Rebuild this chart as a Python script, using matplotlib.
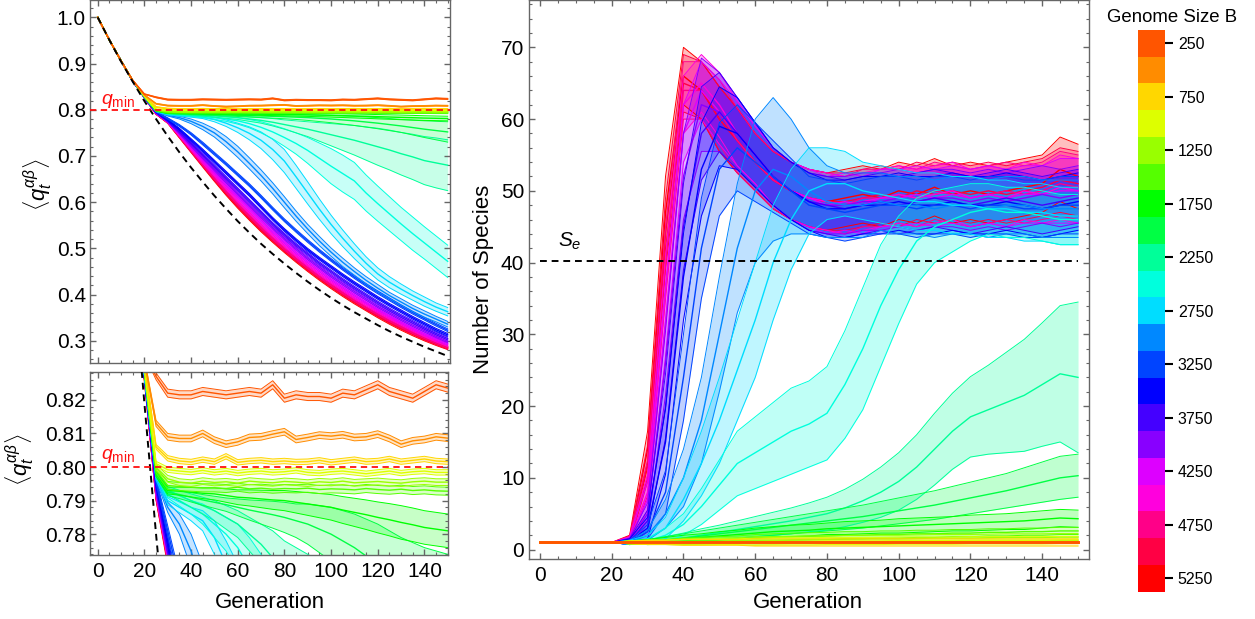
import numpy as np
import matplotlib
matplotlib.use('Agg')
import matplotlib.pyplot as plt
import matplotlib.cm as cm
from matplotlib.colors import ListedColormap, BoundaryNorm
from matplotlib.ticker import MultipleLocator, FormatStrFormatter

plt.rcParams['font.family'] = ['Liberation Sans', 'DejaVu Sans']
plt.rcParams['mathtext.fontset'] = 'custom'
plt.rcParams['mathtext.rm'] = 'Liberation Sans'
plt.rcParams['mathtext.it'] = 'Liberation Sans:italic'
plt.rcParams['mathtext.bf'] = 'Liberation Sans:bold'

# generations sampled every 5 steps
gens = list(range(0, 151, 5))

genome_sizes = [250, 500, 750, 1000, 1250, 1500, 1750, 2000, 2250, 2500, 2750,
                3000, 3250, 3500, 3750, 4000, 4250, 4500, 4750, 5000, 5250]
cbar_ticks = [250, 750, 1250, 1750, 2250, 2750, 3250, 3750, 4250, 4750, 5250]

q_min = 0.8
S_e = 40.2

# black dashed reference curve for <q>
q_ref = [1.0, 0.951, 0.9045, 0.861, 0.819, 0.780, 0.743, 0.708, 0.675, 0.644, 0.614,
         0.586, 0.559, 0.534, 0.510, 0.488, 0.467, 0.447, 0.428, 0.410, 0.393, 0.377,
         0.362, 0.348, 0.334, 0.321, 0.309, 0.298, 0.287, 0.277, 0.267]

# mean overlap <q> per genome size
q_0250 = [1.000, 0.951, 0.906, 0.864, 0.834, 0.827, 0.822, 0.8215, 0.8215, 0.8225, 0.822, 0.8215, 0.822, 0.8225, 0.822, 0.8245, 0.8205, 0.8215, 0.821, 0.821, 0.8205, 0.822, 0.8215, 0.823, 0.8245, 0.8225, 0.8215, 0.8205, 0.8225, 0.8245, 0.8235]
q_0500 = [1.000, 0.951, 0.906, 0.863, 0.832, 0.813, 0.809, 0.8085, 0.8085, 0.810, 0.808, 0.8068, 0.8075, 0.8088, 0.809, 0.8098, 0.8105, 0.8082, 0.8088, 0.8095, 0.8092, 0.8096, 0.8088, 0.809, 0.8098, 0.8085, 0.8068, 0.8078, 0.8082, 0.809, 0.8086]
q_0750 = [1.000, 0.951, 0.906, 0.863, 0.831, 0.806, 0.8026, 0.8018, 0.8015, 0.8022, 0.8016, 0.8032, 0.8014, 0.8018, 0.802, 0.8016, 0.8018, 0.8015, 0.8016, 0.802, 0.8014, 0.8018, 0.8022, 0.8016, 0.8018, 0.8024, 0.8016, 0.802, 0.8024, 0.8018, 0.8016]
q_1000 = [1.000, 0.951, 0.906, 0.863, 0.830, 0.801, 0.7992, 0.7988, 0.7985, 0.799, 0.7984, 0.7988, 0.7982, 0.7986, 0.7988, 0.7984, 0.7986, 0.799, 0.7984, 0.7982, 0.7986, 0.7988, 0.7984, 0.798, 0.7984, 0.7988, 0.7982, 0.7986, 0.7988, 0.7984, 0.7984]
q_1250 = [1.000, 0.951, 0.906, 0.863, 0.829, 0.800, 0.7965, 0.7955, 0.7952, 0.7958, 0.7954, 0.7956, 0.7952, 0.7958, 0.7955, 0.7953, 0.7957, 0.7955, 0.7952, 0.7956, 0.7954, 0.7958, 0.7953, 0.7955, 0.7957, 0.7954, 0.7952, 0.7956, 0.7958, 0.7955, 0.7955]
q_1500 = [1.000, 0.951, 0.906, 0.863, 0.829, 0.799, 0.7945, 0.7942, 0.794, 0.7938, 0.7938, 0.7936, 0.794, 0.7935, 0.7937, 0.7934, 0.7936, 0.7935, 0.7937, 0.7933, 0.7935, 0.7934, 0.7932, 0.7936, 0.7933, 0.7931, 0.7934, 0.793, 0.7932, 0.7929, 0.7928]
q_1750 = [1.000, 0.951, 0.906, 0.863, 0.829, 0.798, 0.793, 0.7928, 0.7925, 0.7922, 0.792, 0.7915, 0.791, 0.7908, 0.7905, 0.7902, 0.790, 0.7895, 0.789, 0.7885, 0.788, 0.7872, 0.7865, 0.7858, 0.785, 0.7843, 0.7835, 0.7828, 0.782, 0.7815, 0.781]
q_2000 = [1.000, 0.951, 0.906, 0.863, 0.829, 0.798, 0.7925, 0.7918, 0.791, 0.7902, 0.7895, 0.7888, 0.788, 0.7872, 0.7865, 0.7858, 0.785, 0.784, 0.783, 0.7815, 0.780, 0.778, 0.776, 0.7735, 0.771, 0.768, 0.765, 0.7615, 0.758, 0.755, 0.752]
q_2250 = [1.000, 0.951, 0.906, 0.863, 0.829, 0.798, 0.793, 0.7915, 0.790, 0.7885, 0.787, 0.785, 0.783, 0.780, 0.777, 0.773, 0.768, 0.763, 0.758, 0.752, 0.746, 0.740, 0.734, 0.727, 0.720, 0.713, 0.705, 0.698, 0.690, 0.685, 0.680]
q_2500 = [1.000, 0.951, 0.906, 0.863, 0.828, 0.798, 0.792, 0.790, 0.788, 0.786, 0.783, 0.780, 0.776, 0.770, 0.762, 0.752, 0.740, 0.727, 0.712, 0.695, 0.678, 0.662, 0.646, 0.620, 0.597, 0.575, 0.553, 0.532, 0.512, 0.492, 0.472]
q_2750 = [1.000, 0.951, 0.906, 0.863, 0.828, 0.797, 0.790, 0.788, 0.786, 0.784, 0.779, 0.771, 0.761, 0.749, 0.734, 0.714, 0.689, 0.655, 0.620, 0.585, 0.552, 0.522, 0.494, 0.468, 0.445, 0.427, 0.412, 0.398, 0.385, 0.373, 0.363]
q_3000 = [1.000, 0.951, 0.906, 0.863, 0.828, 0.797, 0.788, 0.783, 0.775, 0.764, 0.750, 0.731, 0.709, 0.684, 0.658, 0.630, 0.600, 0.570, 0.542, 0.516, 0.492, 0.470, 0.450, 0.431, 0.414, 0.398, 0.384, 0.370, 0.358, 0.347, 0.336]
q_3250 = [1.000, 0.951, 0.906, 0.862, 0.827, 0.796, 0.781, 0.766, 0.748, 0.727, 0.705, 0.683, 0.660, 0.637, 0.612, 0.586, 0.561, 0.538, 0.516, 0.495, 0.475, 0.456, 0.438, 0.421, 0.405, 0.390, 0.375, 0.361, 0.348, 0.335, 0.323]
q_3500 = [1.000, 0.951, 0.906, 0.862, 0.827, 0.795, 0.778, 0.758, 0.735, 0.712, 0.688, 0.664, 0.640, 0.616, 0.590, 0.564, 0.540, 0.518, 0.497, 0.478, 0.460, 0.442, 0.425, 0.409, 0.393, 0.378, 0.364, 0.350, 0.337, 0.324, 0.313]
q_3750 = [1.000, 0.951, 0.906, 0.862, 0.827, 0.794, 0.776, 0.753, 0.728, 0.703, 0.678, 0.653, 0.628, 0.603, 0.578, 0.553, 0.530, 0.508, 0.488, 0.468, 0.450, 0.432, 0.415, 0.399, 0.383, 0.368, 0.354, 0.341, 0.328, 0.316, 0.305]
q_4000 = [1.000, 0.951, 0.906, 0.862, 0.827, 0.793, 0.775, 0.750, 0.723, 0.697, 0.671, 0.645, 0.619, 0.594, 0.569, 0.545, 0.522, 0.500, 0.479, 0.460, 0.441, 0.424, 0.407, 0.391, 0.375, 0.361, 0.347, 0.334, 0.322, 0.310, 0.299]
q_4250 = [1.000, 0.951, 0.906, 0.862, 0.827, 0.793, 0.774, 0.747, 0.719, 0.692, 0.665, 0.638, 0.612, 0.586, 0.561, 0.537, 0.514, 0.492, 0.472, 0.453, 0.434, 0.417, 0.400, 0.384, 0.369, 0.355, 0.341, 0.328, 0.316, 0.305, 0.294]
q_4500 = [1.000, 0.951, 0.906, 0.862, 0.827, 0.792, 0.774, 0.745, 0.716, 0.687, 0.659, 0.631, 0.604, 0.578, 0.553, 0.529, 0.507, 0.485, 0.465, 0.446, 0.428, 0.411, 0.394, 0.379, 0.364, 0.350, 0.337, 0.324, 0.312, 0.301, 0.291]
q_4750 = [1.000, 0.951, 0.906, 0.862, 0.827, 0.792, 0.773, 0.743, 0.713, 0.683, 0.653, 0.624, 0.597, 0.571, 0.546, 0.522, 0.500, 0.479, 0.459, 0.440, 0.422, 0.405, 0.389, 0.373, 0.359, 0.345, 0.332, 0.319, 0.308, 0.297, 0.287]
q_5000 = [1.000, 0.951, 0.906, 0.862, 0.827, 0.791, 0.773, 0.742, 0.711, 0.681, 0.650, 0.621, 0.593, 0.567, 0.542, 0.519, 0.497, 0.476, 0.456, 0.437, 0.419, 0.402, 0.386, 0.370, 0.356, 0.342, 0.329, 0.317, 0.305, 0.295, 0.285]
q_5250 = [1.000, 0.951, 0.905, 0.862, 0.826, 0.791, 0.772, 0.741, 0.710, 0.679, 0.648, 0.618, 0.590, 0.564, 0.539, 0.516, 0.494, 0.473, 0.453, 0.434, 0.416, 0.399, 0.383, 0.368, 0.353, 0.339, 0.326, 0.314, 0.303, 0.293, 0.284]

# half-width of the <q> bands
qs_0250 = [0, 0, 0, 0, 0.0005, 0.0010] + [0.0012] * 25
qs_0500 = [0, 0, 0, 0, 0.0005, 0.0009] + [0.0010] * 25
qs_0750 = [0, 0, 0, 0, 0.0004, 0.0007] + [0.0008] * 25
qs_1000 = [0, 0, 0, 0, 0.0004, 0.0007] + [0.0008] * 25
qs_1250 = [0, 0, 0, 0, 0.0004, 0.0008] + [0.0010] * 25
qs_1500 = [0, 0, 0, 0, 0.0004, 0.0008] + [0.0012] * 25
qs_1750 = [0, 0, 0, 0, 0.0004, 0.0008, 0.001, 0.0012, 0.0014, 0.0016, 0.0018, 0.002, 0.0022, 0.0024, 0.0026, 0.0028, 0.003, 0.0032, 0.0034, 0.0036, 0.0038, 0.004, 0.0042, 0.0044, 0.0046, 0.0048, 0.005, 0.005, 0.005, 0.005, 0.005]
qs_2000 = [0, 0, 0, 0, 0.0004, 0.0008, 0.001, 0.0012, 0.0014, 0.0016, 0.0018, 0.002, 0.0025, 0.003, 0.0035, 0.004, 0.0045, 0.005, 0.006, 0.007, 0.008, 0.009, 0.010, 0.011, 0.012, 0.013, 0.014, 0.016, 0.018, 0.020, 0.022]
qs_2250 = [0, 0, 0, 0, 0.0004, 0.0008, 0.0012, 0.0016, 0.002, 0.0025, 0.003, 0.0035, 0.004, 0.005, 0.006, 0.008, 0.010, 0.013, 0.016, 0.020, 0.024, 0.028, 0.032, 0.036, 0.040, 0.043, 0.046, 0.049, 0.052, 0.054, 0.055]
qs_2500 = [0, 0, 0, 0, 0.0004, 0.0008, 0.0012, 0.0016, 0.002, 0.003, 0.004, 0.005, 0.007, 0.009, 0.012, 0.015, 0.019, 0.023, 0.028, 0.033, 0.038, 0.040, 0.040, 0.039, 0.038, 0.037, 0.036, 0.036, 0.035, 0.035, 0.035]
qs_2750 = [0, 0, 0, 0, 0.0004, 0.0008, 0.0012, 0.0016, 0.002, 0.003, 0.005, 0.007, 0.010, 0.014, 0.018, 0.022, 0.025, 0.025, 0.024, 0.022, 0.020, 0.018, 0.016, 0.014, 0.013, 0.012, 0.011, 0.010, 0.010, 0.009, 0.009]
qs_3000 = [0, 0, 0, 0, 0.0004, 0.0008, 0.0015, 0.003, 0.005, 0.007, 0.009, 0.011, 0.012, 0.012, 0.012, 0.012, 0.012, 0.011, 0.010, 0.010, 0.009, 0.009, 0.008, 0.008, 0.008, 0.007, 0.007, 0.007, 0.007, 0.006, 0.006]
qs_fast = [0, 0, 0, 0, 0.0004, 0.0008, 0.0015, 0.002, 0.0025] + [0.003] * 22

# mean number of species per genome size
s_0250 = [1.0] * 31
s_0500 = [1.0] * 31
s_0750 = [1.0] * 31
s_1000 = [1, 1, 1, 1, 1, 1, 1, 1, 1.05, 1.05, 1.1, 1.1, 1.1, 1.15, 1.15, 1.15, 1.2, 1.2, 1.2, 1.2, 1.25, 1.25, 1.25, 1.25, 1.3, 1.3, 1.3, 1.3, 1.3, 1.35, 1.35]
s_1250 = [1, 1, 1, 1, 1, 1, 1, 1.05, 1.1, 1.15, 1.2, 1.25, 1.3, 1.3, 1.35, 1.4, 1.4, 1.45, 1.5, 1.5, 1.5, 1.55, 1.6, 1.6, 1.6, 1.65, 1.7, 1.7, 1.7, 1.75, 1.75]
s_1500 = [1, 1, 1, 1, 1, 1, 1.05, 1.1, 1.2, 1.3, 1.4, 1.5, 1.6, 1.7, 1.8, 1.85, 1.9, 2, 2, 2.1, 2.1, 2.2, 2.2, 2.3, 2.3, 2.4, 2.4, 2.5, 2.5, 2.6, 2.6]
s_1750 = [1, 1, 1, 1, 1, 1, 1.1, 1.3, 1.5, 1.7, 1.9, 2.1, 2.3, 2.5, 2.6, 2.7, 2.9, 3, 3.1, 3.2, 3.3, 3.4, 3.5, 3.6, 3.7, 3.8, 3.9, 4, 4.2, 4.4, 4.3]
s_2000 = [1, 1, 1, 1, 1, 1, 1.1, 1.3, 1.6, 1.9, 2.2, 2.5, 2.8, 3.1, 3.4, 3.7, 4, 4.3, 4.6, 5, 5.4, 5.8, 6.2, 6.7, 7.2, 7.7, 8.2, 8.8, 9.4, 10, 10.3]
s_2250 = [1, 1, 1, 1, 1, 1, 1, 1.3, 1.6, 2, 2.4, 2.8, 3.2, 3.6, 4, 4.5, 5, 5.8, 6.8, 8, 9.5, 11.5, 14, 16.5, 18.5, 19.5, 20.5, 21.5, 23, 24.5, 24]
s_2500 = [1, 1, 1, 1, 1, 1, 1.2, 2, 3.5, 6, 9, 12, 13.5, 15, 16.5, 17.5, 19, 23, 28, 34, 39, 43, 45, 46, 47, 47.5, 47, 47, 46.5, 46, 46]
s_2750 = [1, 1, 1, 1, 1, 1, 1.5, 3, 7, 12, 18, 25, 32, 40, 46, 50, 51, 51, 50, 49.5, 49, 48.5, 48.5, 48, 48, 47.5, 47.5, 47, 47, 46.5, 46.5]
s_3000 = [1, 1, 1, 1, 1, 1, 2, 5, 10, 18, 30, 42, 50, 53, 52, 50, 48.5, 48, 48, 48.5, 48, 48, 47.5, 48, 48, 47.5, 48, 48, 47.5, 47.5, 47.5]
s_3250 = [1, 1, 1, 1, 1, 1, 2.5, 8, 24, 42, 53, 56, 54, 52, 50, 48, 47.5, 47, 47.5, 48, 48, 47.5, 48, 48, 47.5, 48, 48, 47.5, 47.5, 48, 48]
s_3500 = [1, 1, 1, 1, 1, 1.1, 3, 15, 38, 53, 59, 58, 55, 52, 50, 48.5, 47.5, 47.5, 48, 48, 48.5, 48, 48, 48.5, 48, 48, 48.5, 48, 47.5, 48, 48.5]
s_3750 = [1, 1, 1, 1, 1, 1.1, 4, 20, 45, 58, 61, 58, 55, 52, 50, 48.5, 48, 47.5, 48, 48.5, 48, 48.5, 49, 48.5, 48, 48.5, 49, 48.5, 48, 48.5, 49]
s_4000 = [1, 1, 1, 1, 1, 1.2, 5, 26, 52, 62, 61, 58, 55, 52, 50, 48.5, 48, 48, 48.5, 48.5, 49, 48.5, 49, 49, 48.5, 49, 48.5, 49, 49.5, 49, 49.5]
s_4250 = [1, 1, 1, 1, 1, 1.2, 7, 32, 58, 64, 61, 58, 55, 52, 50, 49, 48, 48.5, 48, 49, 49, 49.5, 49, 49.5, 49, 49.5, 49, 49.5, 49.5, 50, 50]
s_4500 = [1, 1, 1, 1, 1, 1.3, 8, 36, 62, 65, 62, 58, 55, 52, 50, 49, 48.5, 48, 48.5, 49, 49.5, 49, 49.5, 50, 49, 49.5, 49, 50, 49.5, 50.5, 50]
s_4750 = [1, 1, 1, 1, 1, 1.3, 10, 40, 64, 64, 61, 57, 54, 51.5, 50, 49, 48.5, 48, 49, 49, 49.5, 49, 50, 49.5, 49, 49.5, 50, 49.5, 50, 51, 50.5]
s_5000 = [1, 1, 1, 1, 1, 1.4, 12, 44, 65, 64, 60, 57, 54, 51.5, 50, 49, 48.5, 48.5, 49, 49.5, 49, 50, 49.5, 50, 49.5, 50, 49.5, 50, 50.5, 51.5, 51]
s_5250 = [1, 1, 1, 1, 1, 1.5, 14, 47, 66, 64, 60, 57, 54, 51.5, 50, 49, 48.5, 49, 49.5, 49, 50, 49.5, 50.5, 49.5, 50, 49.5, 50, 50.5, 51, 53, 52]

# half-width of the species bands
ss_flat = [0.0] * 31
ss_low = [0, 0, 0, 0, 0, 0.2, 0.3, 0.3, 0.4, 0.4, 0.4, 0.4, 0.5, 0.5, 0.5, 0.5, 0.5, 0.5, 0.5, 0.5, 0.5, 0.5, 0.5, 0.5, 0.5, 0.5, 0.5, 0.5, 0.5, 0.5, 0.5]
ss_1750 = [0, 0, 0, 0, 0, 0.2, 0.3, 0.4, 0.5, 0.5, 0.6, 0.6, 0.7, 0.7, 0.8, 0.8, 0.8, 0.9, 0.9, 0.9, 1, 1, 1, 1, 1.1, 1.1, 1.1, 1.2, 1.2, 1.2, 1.2]
ss_2000 = [0, 0, 0, 0, 0, 0.2, 0.3, 0.5, 0.6, 0.7, 0.8, 0.9, 1, 1.1, 1.2, 1.3, 1.4, 1.5, 1.6, 1.7, 1.8, 1.9, 2, 2.1, 2.2, 2.3, 2.4, 2.6, 2.8, 3, 3]
ss_2250 = [0, 0, 0, 0, 0, 0.2, 0.3, 0.5, 0.7, 0.9, 1, 1.2, 1.4, 1.6, 1.8, 2, 2.3, 2.6, 3, 3.5, 4, 4.5, 5, 5.3, 5.6, 6.2, 7, 7.8, 8.6, 9.5, 10.5]
ss_2500 = [0, 0, 0, 0, 0, 0.2, 0.3, 1, 1.5, 2.5, 3.5, 4.5, 5, 5.5, 6, 6, 6.5, 7.5, 8.5, 8.5, 7.5, 6, 5, 4.5, 4, 3.5, 3.5, 3.5, 3.5, 3.5, 3.5]
ss_2750 = [0, 0, 0, 0, 0, 0.3, 0.5, 1.5, 3, 4.5, 6, 7, 8, 8, 7, 6, 5, 4.5, 4, 4, 4, 4, 4, 4, 4, 4, 4, 4, 4, 4, 4]
ss_3000 = [0, 0, 0, 0, 0, 0.3, 0.7, 2, 4, 6, 8, 9, 10, 10, 8, 6, 5, 4.5, 4.5, 4, 4, 4, 4, 4, 4, 4, 4, 4, 4, 4, 4]
ss_3250 = [0, 0, 0, 0, 0, 0.3, 1, 3, 6, 7, 6.5, 6, 5.5, 5, 4.5, 4, 4, 4, 4, 4, 4, 4, 4, 4, 4, 4, 4, 4, 4, 4, 4]
ss_mid = [0, 0, 0, 0, 0, 0.4, 1.5, 4.5, 6, 6.5, 5.5, 5, 4.5, 4, 4, 4, 4, 4, 4, 4, 4, 4, 4, 4, 4, 4, 4, 4, 4, 4, 4]
ss_fast = [0, 0, 0, 0, 0, 0.5, 2.5, 5, 4, 4, 4.5, 4.5, 4, 4, 4, 4, 4, 4, 4, 4, 4, 4, 4, 4, 4, 4, 4, 4, 4, 4.5, 4.5]

q_means = [q_0250, q_0500, q_0750, q_1000, q_1250, q_1500, q_1750, q_2000, q_2250, q_2500, q_2750,
           q_3000, q_3250, q_3500, q_3750, q_4000, q_4250, q_4500, q_4750, q_5000, q_5250]
q_spreads = [qs_0250, qs_0500, qs_0750, qs_1000, qs_1250, qs_1500, qs_1750, qs_2000, qs_2250, qs_2500, qs_2750,
             qs_3000, qs_fast, qs_fast, qs_fast, qs_fast, qs_fast, qs_fast, qs_fast, qs_fast, qs_fast]
s_means = [s_0250, s_0500, s_0750, s_1000, s_1250, s_1500, s_1750, s_2000, s_2250, s_2500, s_2750,
           s_3000, s_3250, s_3500, s_3750, s_4000, s_4250, s_4500, s_4750, s_5000, s_5250]
s_spreads = [ss_flat, ss_flat, ss_low, ss_low, ss_low, ss_low, ss_1750, ss_2000, ss_2250, ss_2500, ss_2750,
             ss_3000, ss_3250, ss_mid, ss_mid, ss_mid, ss_fast, ss_fast, ss_fast, ss_fast, ss_fast]

colors = ['#FF5500', '#FF8C00', '#FFD700', '#DDFF00', '#99FF00', '#55FF00', '#00FF00',
          '#00FF44', '#00FF99', '#00FFDD', '#00DDFF', '#0088FF', '#0044FF', '#0000FF',
          '#4400FF', '#8800FF', '#DD00FF', '#FF00DD', '#FF0088', '#FF0044', '#FF0000']

TICK_FS = 15
LABEL_FS = 16


def draw_band(ax, x, mean, spread, color, lw=1.0, alpha=0.22):
    mean = np.asarray(mean, dtype=float)
    spread = np.asarray(spread, dtype=float)
    lo, hi = mean - spread, mean + spread
    ax.fill_between(x, lo, hi, color=color, alpha=alpha, lw=0)
    ax.plot(x, lo, color=color, lw=0.7)
    ax.plot(x, hi, color=color, lw=0.7)
    ax.plot(x, mean, color=color, lw=lw)


def style_axes(ax):
    for sp in ax.spines.values():
        sp.set_color('#666666')
        sp.set_linewidth(1.0)
    ax.tick_params(which='both', direction='in', top=True, right=True,
                   color='#666666', labelcolor='black', labelsize=TICK_FS)
    ax.tick_params(which='major', length=4, width=1.0)
    ax.tick_params(which='minor', length=2, width=0.8)
    ax.tick_params(axis='y', pad=3)
    ax.tick_params(axis='x', pad=5)


W, H = 1255, 619
fig = plt.figure(figsize=(W / 100, H / 100), dpi=100)

ax_q = fig.add_axes([90 / W, 1 - 363 / H, 360 / W, 363 / H])
ax_z = fig.add_axes([90 / W, 1 - 555 / H, 358 / W, 183 / H])
ax_s = fig.add_axes([528.5 / W, 1 - 558.7 / H, 560.3 / W, 558.7 / H])
cax = fig.add_axes([1138 / W, 1 - 591.7 / H, 27.3 / W, 561.7 / H])

# left panels: same data, full view and zoom
for ax in (ax_q, ax_z):
    for i in range(len(genome_sizes) - 1, -1, -1):
        draw_band(ax, gens, q_means[i], q_spreads[i], colors[i])
    ax.plot(gens, q_ref, color='black', lw=1.4, ls=(0, (3.5, 2.5)), zorder=5)
    ax.axhline(q_min, color='#FF1010', lw=1.3, ls=(0, (3.5, 2.5)), zorder=6)
    style_axes(ax)
    ax.xaxis.set_major_locator(MultipleLocator(20))
    ax.xaxis.set_minor_locator(MultipleLocator(5))

ax_q.set_xlim(-3.3, 151.0)
ax_q.set_ylim(0.252, 1.0375)
ax_q.yaxis.set_major_locator(MultipleLocator(0.1))
ax_q.yaxis.set_minor_locator(MultipleLocator(0.02))
ax_q.yaxis.set_major_formatter(FormatStrFormatter('%.1f'))
ax_q.tick_params(labelbottom=False)
ax_q.text(1.5, 0.818, r'$q_{\mathrm{min}}$', color='#FF1010', fontsize=14, va='center', ha='left')

ax_z.set_xlim(-3.3, 150.1)
ax_z.set_ylim(0.7738, 0.8283)
ax_z.yaxis.set_major_locator(MultipleLocator(0.01))
ax_z.yaxis.set_minor_locator(MultipleLocator(0.002))
ax_z.yaxis.set_major_formatter(FormatStrFormatter('%.2f'))
ax_z.text(1.5, 0.8033, r'$q_{\mathrm{min}}$', color='#FF1010', fontsize=14, va='center', ha='left')

# right panel: number of species
for i in range(len(genome_sizes) - 1, -1, -1):
    lw = 2.0 if i < 3 else 1.0
    draw_band(ax_s, gens, s_means[i], s_spreads[i], colors[i], lw=lw, alpha=0.25)
ax_s.hlines(S_e, gens[0], gens[-1], color='black', lw=1.4, linestyles=(0, (3.5, 2.5)), zorder=6)
ax_s.text(5, 43, r'$S_e$', fontsize=15, va='center', ha='left')
style_axes(ax_s)
ax_s.set_xlim(-3.2, 153.0)
ax_s.set_ylim(-1.27, 76.6)
ax_s.xaxis.set_major_locator(MultipleLocator(20))
ax_s.xaxis.set_minor_locator(MultipleLocator(5))
ax_s.yaxis.set_major_locator(MultipleLocator(10))
ax_s.yaxis.set_minor_locator(MultipleLocator(2))

# axis labels
fig.text(38 / W, 1 - 185 / H, r'$\langle q_t^{\alpha\beta}\rangle$', rotation=90,
         ha='center', va='center', fontsize=16)
fig.text(20 / W, 1 - 460 / H, r'$\langle q_t^{\alpha\beta}\rangle$', rotation=90,
         ha='center', va='center', fontsize=16)
fig.text(483 / W, 1 - 279 / H, 'Number of Species', rotation=90,
         ha='center', va='center', fontsize=LABEL_FS)
fig.text(270 / W, 1 - 602 / H, 'Generation', ha='center', va='center', fontsize=LABEL_FS)
fig.text(808 / W, 1 - 603 / H, 'Generation', ha='center', va='center', fontsize=LABEL_FS)

# discrete colorbar
cmap = ListedColormap(colors)
bounds = [b - 125 for b in genome_sizes] + [genome_sizes[-1] + 125]
norm = BoundaryNorm(bounds, cmap.N)
cb = fig.colorbar(cm.ScalarMappable(norm=norm, cmap=cmap), cax=cax, ticks=cbar_ticks)
cax.invert_yaxis()
cb.outline.set_visible(False)
cax.tick_params(length=6, width=1.5, color='black', labelsize=11.5, pad=3)
cax.minorticks_off()
fig.text(1172 / W, 1 - 17 / H, 'Genome Size B', ha='center', va='center', fontsize=13.4)

fig.savefig('out.png', dpi=100)
